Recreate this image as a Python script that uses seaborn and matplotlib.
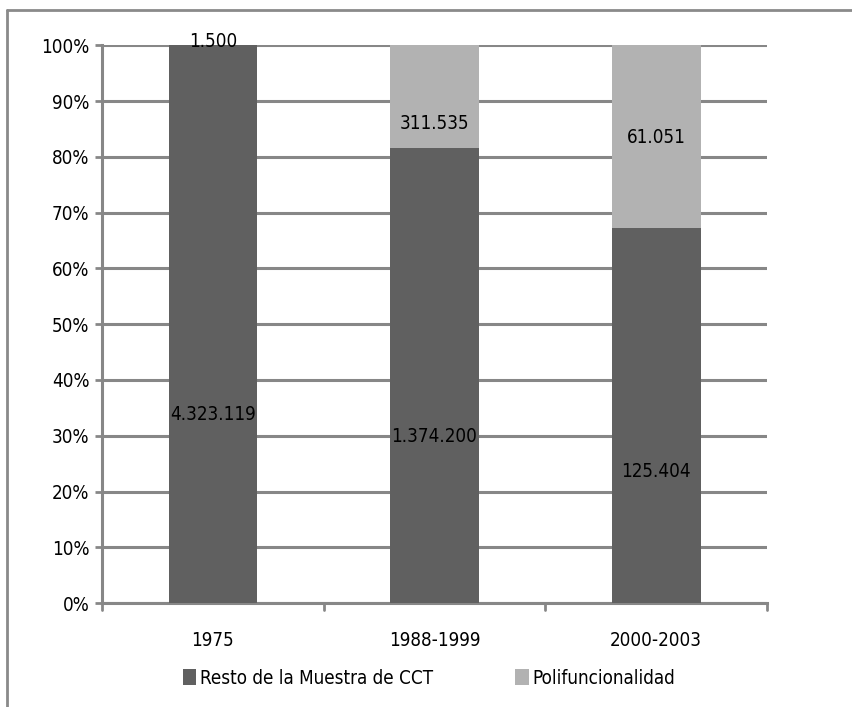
import numpy as np
import pandas as pd
import matplotlib
matplotlib.use("Agg")
import matplotlib.pyplot as plt
import seaborn as sns
from matplotlib.lines import Line2D
from matplotlib.patches import Patch

periods = ["1975", "1988-1999", "2000-2003"]
resto = [4323119, 1374200, 125404]
polif = [1500, 311535, 61051]
series_names = ["Resto de la Muestra de CCT", "Polifuncionalidad"]

dark = "#606060"
light = "#B2B2B2"
grid_col = "#878787"


def fmt_es(v):
    return f"{v:,}".replace(",", ".")


df = pd.DataFrame({"periodo": periods, "resto": resto, "polif": polif})
df["total"] = df["resto"] + df["polif"]
df["resto_pct"] = df["resto"] / df["total"] * 100
df["full_pct"] = 100.0

sns.set_style("white")
plt.rcParams["font.family"] = ["DejaVu Sans"]
plt.rcParams["font.stretch"] = "condensed"
plt.rcParams["text.color"] = "black"

fig = plt.figure(figsize=(8.53, 7.07), dpi=100)
ax = fig.add_axes([0.1196, 0.147, 0.7796, 0.789])

sns.barplot(data=df, x="periodo", y="full_pct", color=light, width=0.40,
            saturation=1, ax=ax, zorder=3)
sns.barplot(data=df, x="periodo", y="resto_pct", color=dark, width=0.40,
            saturation=1, ax=ax, zorder=3)
for p in ax.patches:
    p.set_edgecolor("none")

fs = 13.5
ax.set_xlim(-0.5, 2.5)
ax.set_ylim(0, 100)
ax.set_yticks(np.arange(0, 101, 10))
ax.set_yticklabels([f"{t}%" for t in range(0, 101, 10)], fontsize=fs)
ax.set_xticks([0, 1, 2])
ax.set_xticklabels(periods, fontsize=fs)
ax.set_xlabel("")
ax.set_ylabel("")
ax.yaxis.grid(True, color=grid_col, linewidth=2.2, zorder=0)
ax.set_axisbelow(True)
for side in ["top", "right"]:
    ax.spines[side].set_visible(False)
for side in ["left", "bottom"]:
    ax.spines[side].set_color(grid_col)
    ax.spines[side].set_linewidth(2.2)

ax.tick_params(axis="y", length=5, width=2, color=grid_col, labelcolor="black",
               pad=4, left=True)
ax.tick_params(axis="x", length=0, pad=20, labelcolor="black")
# boundary ticks on x axis
for xb in [-0.5, 0.5, 1.5, 2.5]:
    ax.plot([xb, xb], [0, -1.3], color=grid_col, lw=2, clip_on=False)

# data labels (positions)
resto_label_y = [33.8, 29.9, 23.6]
polif_label_y = [100.6, 85.9, 83.4]
for i in range(len(periods)):
    ax.text(i, resto_label_y[i], fmt_es(resto[i]), ha="center", va="center",
            fontsize=fs, color="black", zorder=5)
    ax.text(i, polif_label_y[i], fmt_es(polif[i]), ha="center", va="center",
            fontsize=fs, color="black", zorder=5)

handles = [Patch(facecolor=dark, edgecolor="none"),
           Patch(facecolor=light, edgecolor="none")]
fig.legend(handles, series_names, loc="center left", bbox_to_anchor=(0.2145, 0.041),
           ncol=2, frameon=False, fontsize=fs, handlelength=0.7,
           handleheight=0.95, handletextpad=0.2, columnspacing=4.4,
           borderpad=0, borderaxespad=0)

# outer chart frame (top and left)
fig.add_artist(Line2D([0.008, 1.0], [0.986, 0.986], color="#8a8a8a", lw=2,
                      transform=fig.transFigure))
fig.add_artist(Line2D([0.008, 0.008], [0.0, 0.986], color="#8a8a8a", lw=2,
                      transform=fig.transFigure))

fig.savefig("out.png", dpi=100)
